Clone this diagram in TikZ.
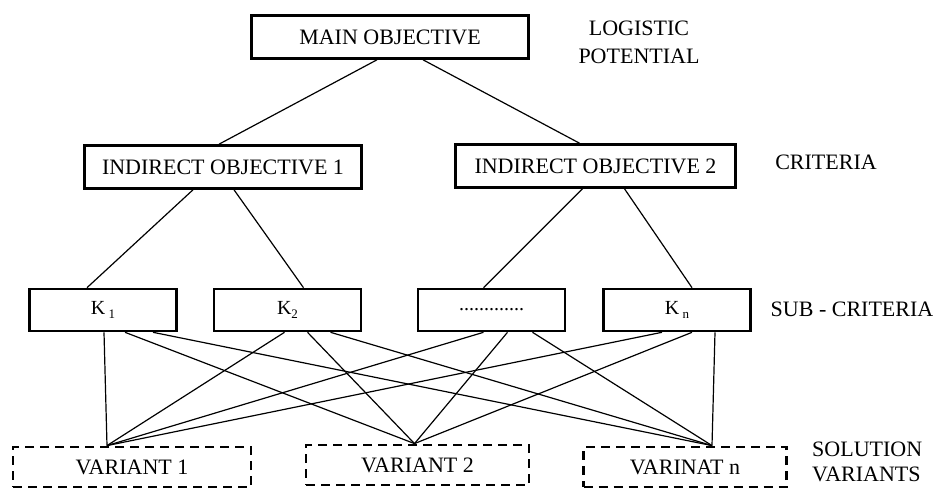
\documentclass[tikz,border=0pt]{standalone}
\usepackage{fontspec}
\setmainfont{Liberation Serif}
\begin{document}
\begin{tikzpicture}[x=1pt,y=-1pt,
  solidbox/.style={draw, line width=2.6pt, inner sep=0pt, font=\fontsize{22}{28}\selectfont},
  kbox/.style={solidbox, minimum width=147pt, minimum height=42pt},
  varbox/.style={draw, line width=2.8pt, dash pattern=on 9pt off 6pt, inner sep=0pt, font=\fontsize{22}{28}\selectfont},
  lbl/.style={font=\fontsize{22}{28}\selectfont, inner sep=0pt, align=left},
  conn/.style={line width=1.2pt}]
\useasboundingbox (0,0) rectangle (938,489);
% top level
\node[solidbox, minimum width=277pt, minimum height=43pt] (main) at (390,37) {MAIN OBJECTIVE};
\node[lbl, align=center] (lp) at (639,42) {LOGISTIC\\POTENTIAL};
% criteria
\node[solidbox, minimum width=277pt, minimum height=43pt] (io1) at (223,167) {INDIRECT OBJECTIVE 1};
\node[solidbox, minimum width=280pt, minimum height=43pt] (io2) at (595.5,166) {INDIRECT OBJECTIVE 2};
\node[lbl] (crit) at (826,162) {CRITERIA};
% sub-criteria
\node[kbox] (k1) at (103,310) {\fontsize{20}{24}\selectfont K\,\raisebox{-4pt}{\fontsize{13}{14}\selectfont 1}};
\node[kbox] (k2) at (287.5,310) {\fontsize{20}{24}\selectfont K\raisebox{-4pt}{\fontsize{13}{14}\selectfont 2}};
\node[kbox] (kd) at (491.5,310) {\raisebox{-2pt}{\fontsize{20}{24}\selectfont .............}};
\node[kbox] (kn) at (677,310) {\fontsize{20}{24}\selectfont K\,\raisebox{-4pt}{\fontsize{13}{14}\selectfont n}};
\node[lbl] (sub) at (852,309) {SUB - CRITERIA};
% variants
\node[varbox, minimum width=238pt, minimum height=40pt] (v1) at (132,467) {VARIANT 1};
\node[varbox, minimum width=223pt, minimum height=40pt] (v2) at (417.5,465) {VARIANT 2};
\node[varbox, minimum width=203pt, minimum height=40pt] (vn) at (685,467) {VARINAT n};
\node[lbl, anchor=west, font=\fontsize{22}{25}\selectfont] (sv) at (812,462) {SOLUTION\\VARIANTS};
% connectors top
\draw[conn] ([xshift=-13pt]main.south) -- ([xshift=-4pt]io1.north);
\draw[conn] ([xshift=33pt]main.south) -- ([xshift=-16pt]io2.north);
\draw[conn] ([xshift=-30pt]io1.south) -- ([xshift=-16pt]k1.north);
\draw[conn] ([xshift=11pt]io1.south) -- ([xshift=16pt]k2.north);
\draw[conn] ([xshift=-13pt]io2.south) -- ([xshift=-8pt]kd.north);
\draw[conn] ([xshift=29pt]io2.south) -- ([xshift=15pt]kn.north);
% variant targets
\coordinate (t1) at ([xshift=-25pt]v1.north);
\coordinate (t2) at ([xshift=-3pt]v2.north);
\coordinate (tn) at ([xshift=27pt]vn.north);
% connectors bottom
\draw[conn] ([xshift=1pt]k1.south) -- (t1);
\draw[conn] ([xshift=22pt]k1.south) -- (t2);
\draw[conn] ([xshift=50pt]k1.south) -- (tn);
\draw[conn] ([xshift=-3pt]k2.south) -- (t1);
\draw[conn] ([xshift=20pt]k2.south) -- (t2);
\draw[conn] ([xshift=43pt]k2.south) -- (tn);
\draw[conn] ([xshift=-8pt]kd.south) -- (t1);
\draw[conn] ([xshift=16pt]kd.south) -- (t2);
\draw[conn] ([xshift=41pt]kd.south) -- (tn);
\draw[conn] ([xshift=-15pt]kn.south) -- (t1);
\draw[conn] ([xshift=15pt]kn.south) -- (t2);
\draw[conn] ([xshift=38pt]kn.south) -- (tn);
\end{tikzpicture}
\end{document}
